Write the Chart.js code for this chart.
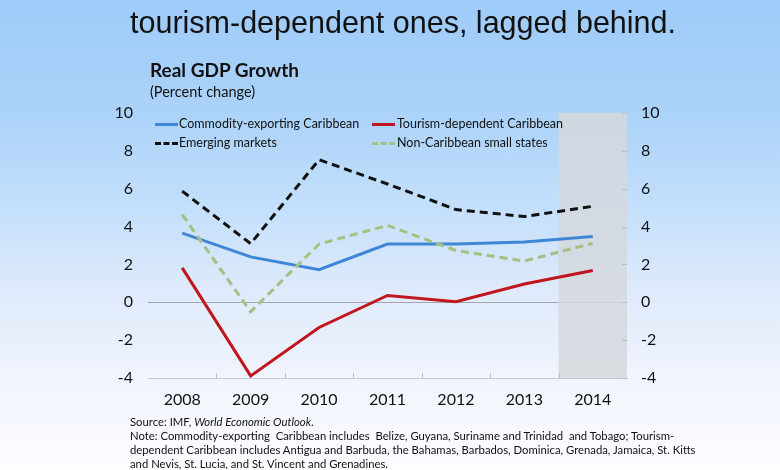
<!DOCTYPE html>
<html>
<head>
<meta charset="utf-8">
<script src="https://cdn.jsdelivr.net/npm/chart.js@4.4.1/dist/chart.umd.min.js"></script>
<style>
  html, body { margin: 0; padding: 0; }
  body {
    width: 780px; height: 470px; overflow: hidden; position: relative;
    background: linear-gradient(to bottom, #9ecbf8 0%, #acd3f9 25%, #c5e0fb 45%, #dfeafb 62%, #eef3fd 78%, #fcfdff 100%);
    font-family: Lato, "Open Sans", sans-serif;
  }
  #wrap { position: absolute; left: 0; top: 0; width: 780px; height: 470px; }
  .abs { position: absolute; white-space: nowrap; color: #111; }
  #headline { left: 0; width: 806px; top: 5px; text-align: center; font-family: "Liberation Sans", Arial, sans-serif; font-size: 30.5px; }
  #ctitle { left: 150px; top: 58px; font-weight: bold; font-size: 19px; }
  #csub { left: 150px; top: 83px; font-size: 14.5px; }
  .leg { font-size: 12.5px; line-height: 16px; }
  .sw { position: absolute; width: 23px; height: 0; }
  #notes { left: 130px; top: 415px; font-size: 11.3px; line-height: 14px; }
</style>
</head>
<body>
<div id="wrap"><canvas id="gdpChart" width="780" height="470"></canvas></div>
<div class="abs" id="headline">tourism-dependent ones, lagged behind.</div>
<div class="abs" id="ctitle">Real GDP Growth</div>
<div class="abs" id="csub">(Percent change)</div>

<div class="sw" style="left:155px;top:123px;border-top:3px solid #3f86d6"></div>
<div class="abs leg" style="left:179px;top:116px">Commodity-exporting Caribbean</div>
<div class="sw" style="left:372px;top:123px;border-top:3px solid #c0161e"></div>
<div class="abs leg" style="left:397px;top:116px">Tourism-dependent Caribbean</div>
<div class="sw" style="left:155px;top:142px;border-top:3px dashed #111"></div>
<div class="abs leg" style="left:179px;top:135px">Emerging markets</div>
<div class="sw" style="left:372px;top:142px;border-top:3px dashed #a3c184"></div>
<div class="abs leg" style="left:397px;top:135px">Non-Caribbean small states</div>

<div class="abs" id="notes">Source: IMF, <i>World Economic Outlook</i>.<br>Note: Commodity-exporting &nbsp;Caribbean includes &nbsp;Belize, Guyana, Suriname and Trinidad &nbsp;and Tobago; Tourism-<br>dependent Caribbean includes Antigua and Barbuda, the Bahamas, Barbados, Dominica, Grenada, Jamaica, St. Kitts<br>and Nevis, St. Lucia, and St. Vincent and Grenadines.</div>

<script>
var years = ['2008', '2009', '2010', '2011', '2012', '2013', '2014'];
var commodityCarib = [3.65, 2.4, 1.72, 3.08, 3.08, 3.18, 3.48];
var tourismCarib = [1.82, -3.89, -1.33, 0.36, 0.03, 0.97, 1.68];
var emergingMkts = [5.87, 3.1, 7.53, 6.25, 4.9, 4.53, 5.07];
var nonCaribSmall = [4.63, -0.5, 3.08, 4.06, 2.74, 2.18, 3.12];
var yTicks = [-4, -2, 0, 2, 4, 6, 8, 10];
var shadedYear = '2014';

// shaded projection band + small inner tick marks
var extras = {
    id: 'extras',
    beforeDatasetsDraw: function (chart) {
        var ctx = chart.ctx, a = chart.chartArea, x = chart.scales.x, y2 = chart.scales.y2;
        var band = (a.right - a.left) / years.length;
        var i = years.indexOf(shadedYear);
        var left = x.getPixelForValue(i) - band / 2;
        ctx.save();
        ctx.fillStyle = 'rgba(213,216,221,0.85)';
        ctx.fillRect(left, a.top, a.right - left, a.bottom - a.top);
        ctx.strokeStyle = '#b9c0c8';
        ctx.lineWidth = 1;
        ctx.beginPath();
        for (var k = 1; k < years.length; k++) {
            var px = Math.round(x.getPixelForValue(k) - band / 2) + 0.5;
            ctx.moveTo(px, a.bottom);
            ctx.lineTo(px, a.bottom - 5);
        }
        yTicks.forEach(function (v) {
            var py = Math.round(y2.getPixelForValue(v)) + 0.5;
            ctx.moveTo(a.right, py);
            ctx.lineTo(a.right - 5, py);
        });
        ctx.stroke();
        ctx.restore();
    }
};

var tickFont = { family: 'Lato, "Open Sans", sans-serif', size: 16 };

new Chart(document.getElementById('gdpChart'), {
    type: 'line',
    data: {
        labels: years,
        datasets: [
            { label: 'Emerging markets', data: emergingMkts, borderColor: '#111', borderWidth: 3, borderDash: [8, 5] },
            { label: 'Non-Caribbean small states', data: nonCaribSmall, borderColor: '#a3c184', borderWidth: 3, borderDash: [8, 5] },
            { label: 'Commodity-exporting Caribbean', data: commodityCarib, borderColor: '#3f86d6', borderWidth: 3 },
            { label: 'Tourism-dependent Caribbean', data: tourismCarib, borderColor: '#c0161e', borderWidth: 3 }
        ]
    },
    options: {
        responsive: false,
        animation: false,
        devicePixelRatio: 1,
        layout: { padding: { top: 113, left: 0, right: 0, bottom: 0 } },
        elements: { point: { radius: 0 }, line: { tension: 0 } },
        plugins: { legend: { display: false }, tooltip: { enabled: false } },
        scales: {
            x: {
                offset: true,
                grid: { display: false },
                border: { color: '#c3cad2', width: 1 },
                ticks: { color: '#111', font: tickFont, padding: 4 },
                afterFit: function (s) { s.height = 92; }
            },
            y: {
                position: 'left',
                min: -4, max: 10,
                border: { display: false },
                grid: {
                    drawTicks: false,
                    color: function (c) { return c.tick && c.tick.value === 0 ? '#a3a8ae' : 'rgba(0,0,0,0)'; }
                },
                ticks: { stepSize: 2, color: '#111', font: tickFont, padding: 15 },
                afterFit: function (s) { s.width = 148; }
            },
            y2: {
                position: 'right',
                min: -4, max: 10,
                border: { display: false },
                grid: { display: false, drawTicks: false },
                ticks: { stepSize: 2, color: '#111', font: tickFont, padding: 14 },
                afterFit: function (s) { s.width = 153; }
            }
        }
    },
    plugins: [extras]
});
</script>
</body>
</html>
